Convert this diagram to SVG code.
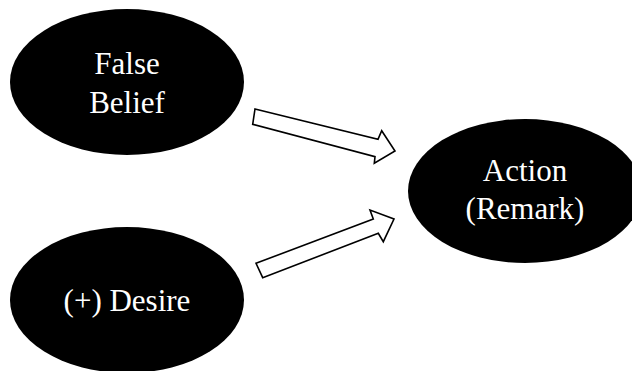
<svg xmlns="http://www.w3.org/2000/svg" width="632" height="371" viewBox="0 0 632 371">
<style>
.node{fill:#000}
.lbl{fill:#fff;font-family:"Liberation Serif","Times New Roman",serif;font-size:31px;text-anchor:middle}
.arr{fill:#fff;stroke:#000;stroke-width:1.6;stroke-linejoin:miter}
</style>
<rect width="632" height="371" fill="#fff"/>
<g id="false-belief">
<ellipse class="node" cx="127" cy="82" rx="117" ry="73"/>
<text class="lbl" x="127" y="74">False</text>
<text class="lbl" x="127" y="113">Belief</text>
</g>
<g id="desire">
<ellipse class="node" cx="127" cy="300" rx="117" ry="73"/>
<text class="lbl" x="127" y="311">(+) Desire</text>
</g>
<g id="action">
<ellipse class="node" cx="525" cy="191" rx="117" ry="72"/>
<text class="lbl" x="525" y="181">Action</text>
<text class="lbl" x="525" y="219">(Remark)</text>
</g>
<g id="connectors">
<polygon class="arr" points="255,109 378,139.3 381.7,130.7 395,151 374.3,163.3 375,156.7 252.7,124.3"/>
<polygon class="arr" points="256,263.3 373.3,219 370,210 394,219 383.3,241.7 378.3,233.3 262.7,277.7"/>
</g>
</svg>
